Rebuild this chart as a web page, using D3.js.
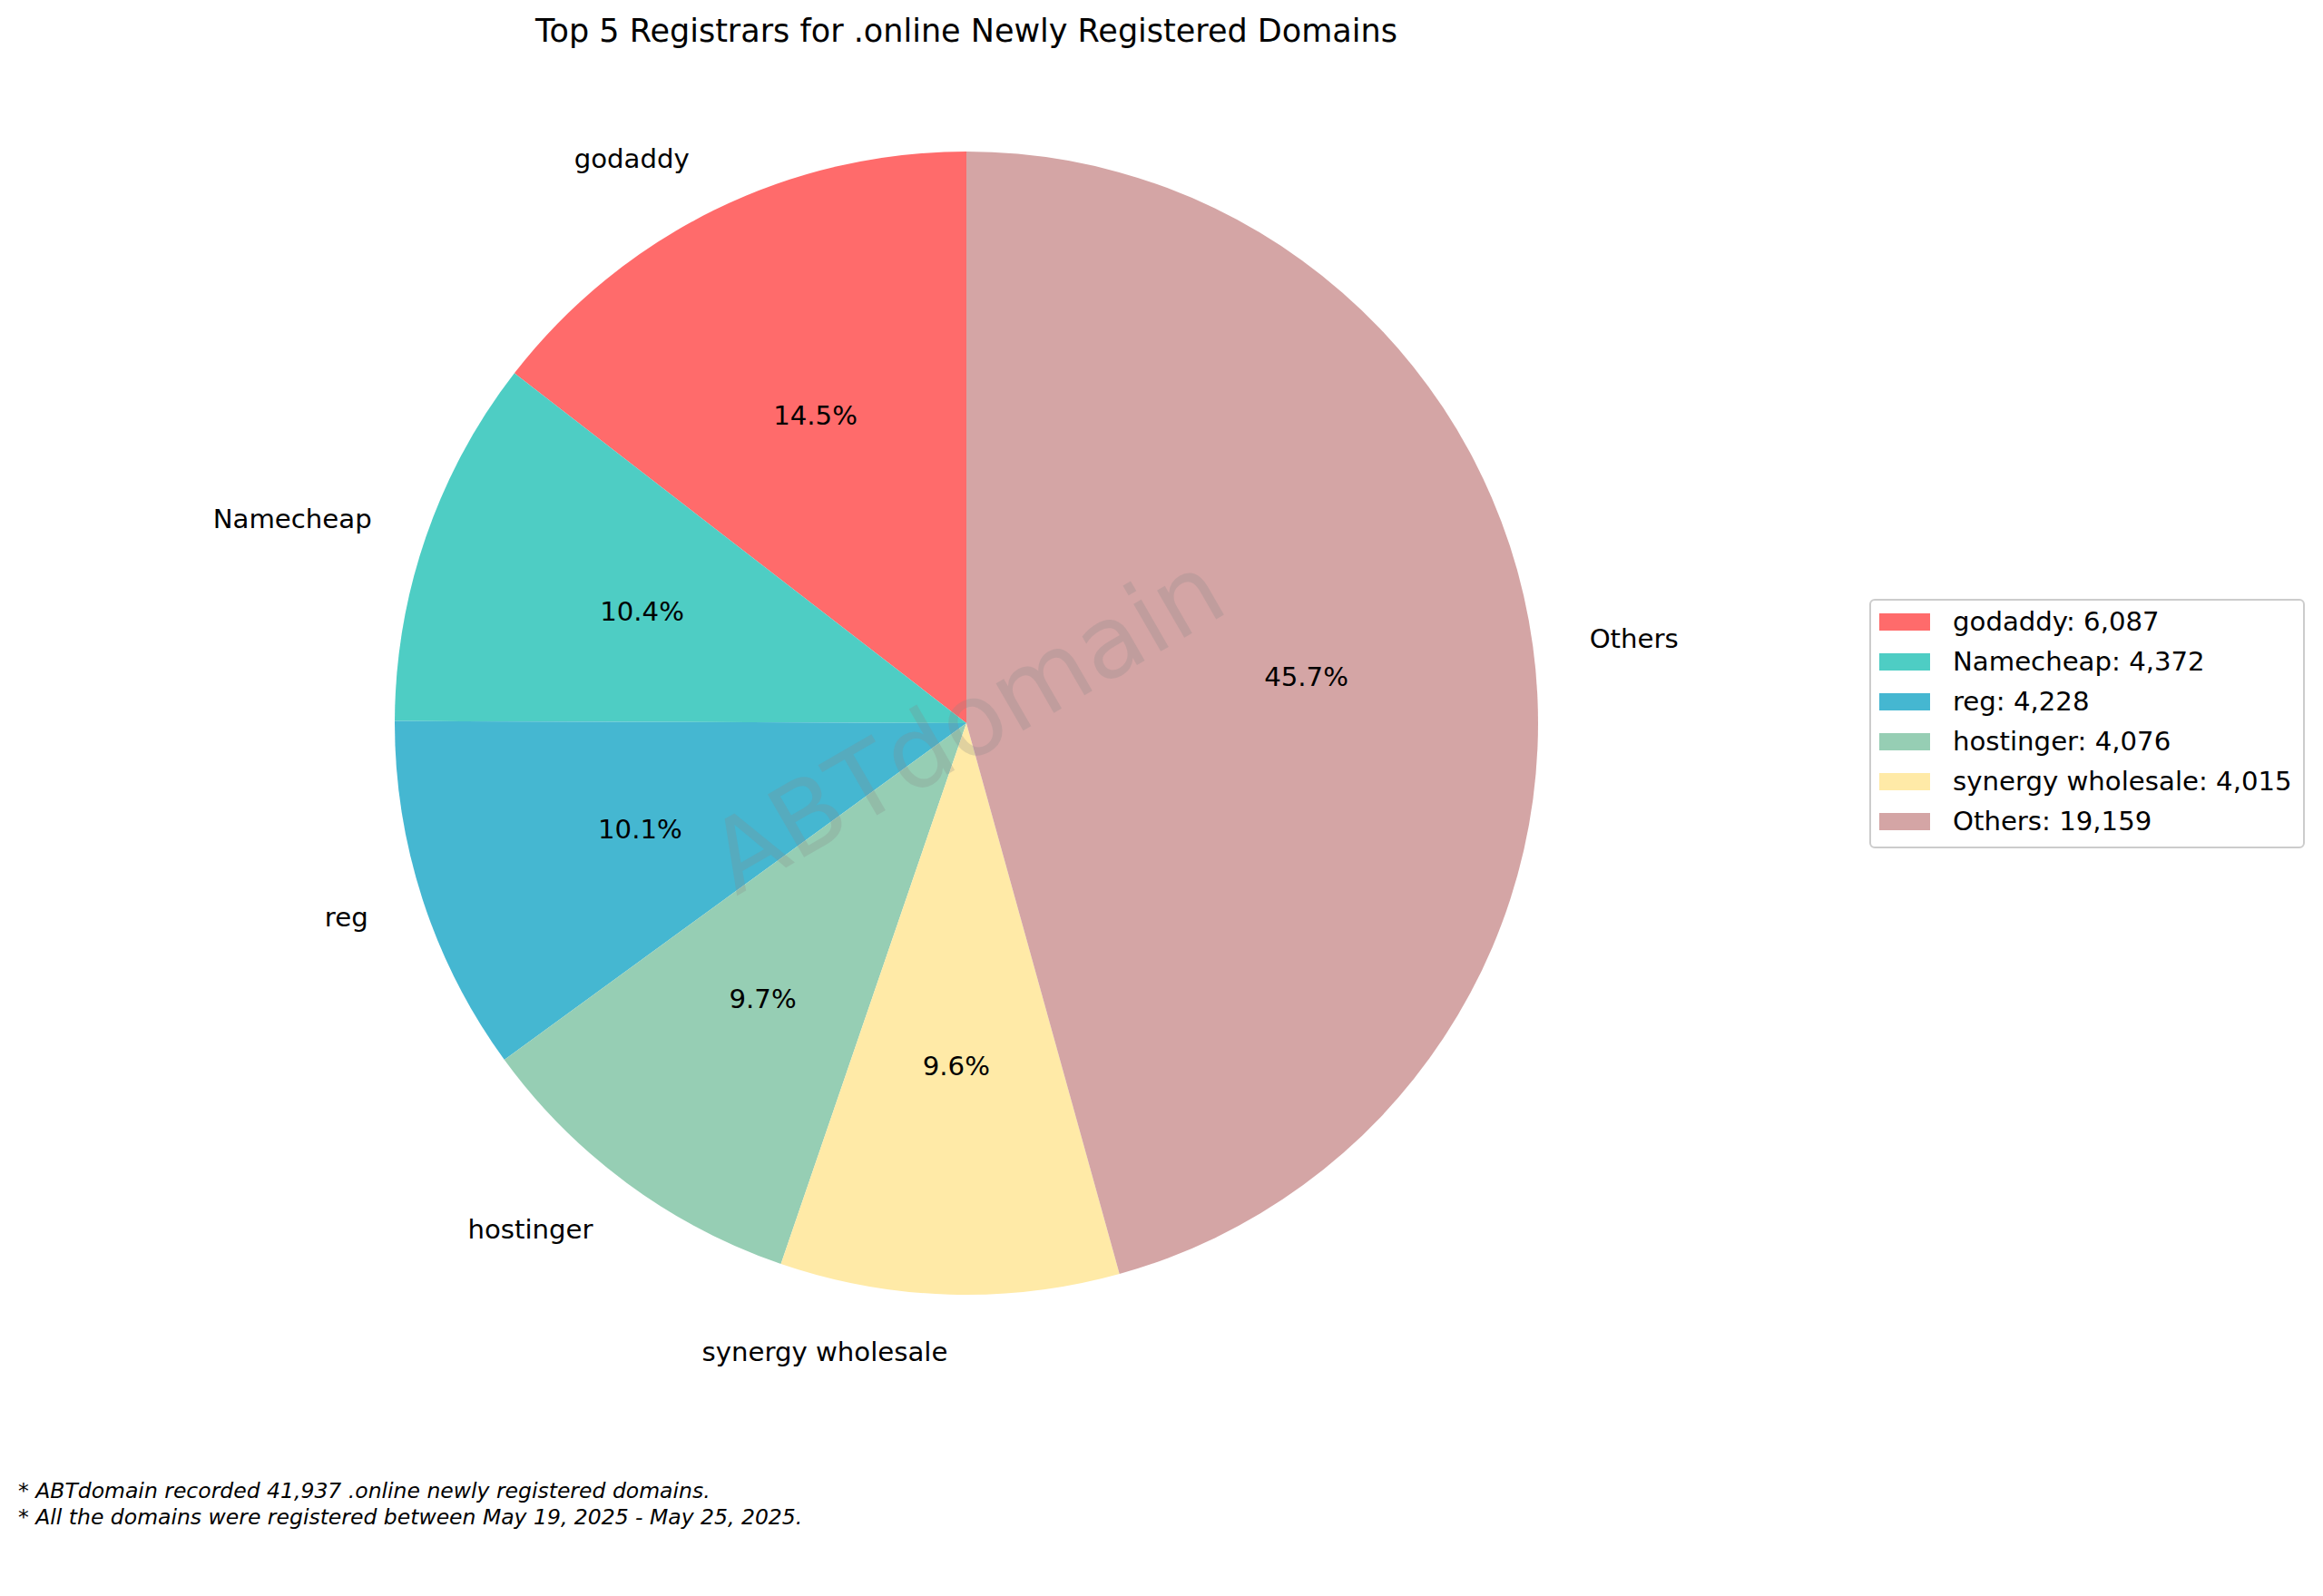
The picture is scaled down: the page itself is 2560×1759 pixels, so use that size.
<!DOCTYPE html>
<html><head><meta charset="utf-8">
<script src="https://cdn.jsdelivr.net/npm/d3@7"></script>
<style>body{margin:0;background:#fff}svg{font-family:"DejaVu Sans",sans-serif}</style>
</head><body>
<script>
const categories=["godaddy","Namecheap","reg","hostinger","synergy wholesale","Others"];
const values=[6087,4372,4228,4076,4015,19159];
const colors=["#FF6B6B","#4ECDC4","#45B7D1","#96CEB4","#FFEAA7","#D4A5A5"];
const notes=["* ABTdomain recorded 41,937 .online newly registered domains.","* All the domains were registered between May 19, 2025 - May 25, 2025."];
const W=2560,H=1759,cx=1065,cy=797,R=630;
const svg=d3.select("body").append("svg").attr("width",W).attr("height",H);
const total=d3.sum(values);
const pie=d3.pie().sort(null).startAngle(0).endAngle(-2*Math.PI)(values);
const arc=d3.arc().innerRadius(0).outerRadius(R);
const g=svg.append("g").attr("transform",`translate(${cx},${cy})`);
g.selectAll("path").data(pie).join("path").attr("d",arc).attr("fill",(d,i)=>colors[i]);
const mid=d=>(d.startAngle+d.endAngle)/2;
pie.forEach((d,i)=>{
  const a=mid(d),x=Math.sin(a),y=-Math.cos(a);
  g.append("text").attr("x",x*R*1.1).attr("y",y*R*1.1).attr("dy","0.35em")
   .attr("text-anchor",x<0?"end":"start").attr("font-size",29.2).text(categories[i]);
  g.append("text").attr("x",x*R*0.6).attr("y",y*R*0.6).attr("dy","0.35em")
   .attr("text-anchor","middle").attr("font-size",29.2).text((values[i]/total*100).toFixed(1)+"%");
});
g.append("text").attr("transform","rotate(-30)").attr("text-anchor","middle").attr("dy","0.35em")
 .attr("font-size",110).attr("fill","#888").attr("opacity",0.25).text("ABTdomain");
svg.append("text").attr("x",cx).attr("y",46).attr("text-anchor","middle").attr("font-size",35).text("Top 5 Registrars for .online Newly Registered Domains");
const lg=svg.append("g");
lg.append("rect").attr("x",2061).attr("y",661).attr("width",478).attr("height",273).attr("rx",5)
 .attr("fill","#fff").attr("stroke","#ccc").attr("stroke-width",2);
categories.forEach((c,i)=>{
  const y=685+i*44;
  lg.append("rect").attr("x",2071).attr("y",y-9).attr("width",56).attr("height",19).attr("fill",colors[i]);
  lg.append("text").attr("x",2152).attr("y",y).attr("dy","0.35em").attr("font-size",29.2).text(c+": "+d3.format(",")(values[i]));
});
notes.forEach((n,i)=>svg.append("text").attr("x",20).attr("y",1651+i*29).attr("font-size",23.5).attr("font-style","italic").text(n));
</script>
</body></html>
